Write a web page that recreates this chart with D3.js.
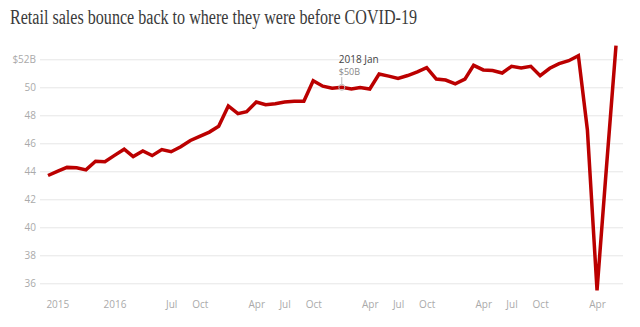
<!DOCTYPE html>
<html>
<head>
<meta charset="utf-8">
<script src="https://cdn.jsdelivr.net/npm/d3@7"></script>
<style>
  html, body { margin: 0; padding: 0; background: #fff; }
  svg { display: block; }
</style>
</head>
<body>
<svg id="chart" width="640" height="327"></svg>
<script>
// Monthly retail sales, $ billions, Jun 2015 .. Jun 2020
const startMonth = "2015-06";
const sales = [
  43.7, 44.0, 44.28, 44.25, 44.1, 44.72, 44.68,          // Jun-Dec 2015
  45.14, 45.58, 45.05, 45.45, 45.12, 45.55, 45.4, 45.75, 46.2, 46.5, 46.8, 47.22, // 2016
  48.67, 48.12, 48.26, 48.95, 48.75, 48.82, 48.95, 49.0, 49.0, 50.47, 50.08, 49.93, // 2017
  50.0, 49.88, 49.98, 49.88, 50.95, 50.8, 50.64, 50.84, 51.1, 51.4, 50.59, 50.52, // 2018
  50.24, 50.58, 51.57, 51.24, 51.2, 51.02, 51.5, 51.38, 51.5, 50.83, 51.36, 51.69, // 2019
  51.9, 52.26, 46.95, 35.5, 44.2, 52.97                  // Jan-Jun 2020
];
const yTicks = [36, 38, 40, 42, 44, 46, 48, 50, 52];
const xTickDates = ["2015-07", "2016-01", "2016-07", "2016-10", "2017-04", "2017-07", "2017-10",
                    "2018-04", "2018-07", "2018-10", "2019-04", "2019-07", "2019-10", "2020-04"];
const xTickLabels = ["2015", "2016", "Jul", "Oct", "Apr", "Jul", "Oct",
                     "Apr", "Jul", "Oct", "Apr", "Jul", "Oct", "Apr"];
const annotation = { date: "2018-01", title: "2018 Jan", label: "$50B" };
const titleText = "Retail sales bounce back to where they were before COVID-19";

const parseMonth = d3.timeParse("%Y-%m");
const start = parseMonth(startMonth);
const data = sales.map((v, i) => ({ date: d3.timeMonth.offset(start, i), value: v }));

const svg = d3.select("#chart");

const x = d3.scaleTime()
  .domain([data[0].date, data[data.length - 1].date])
  .range([48, 616]);
const y = d3.scaleLinear().domain([36, 52]).range([283.3, 59.3]);

// Title
svg.append("text")
  .attr("x", 10).attr("y", 23.5)
  .attr("font-family", "Liberation Serif, serif")
  .attr("font-size", 20)
  .attr("fill", "#3a3a3a")
  .attr("textLength", 407)
  .attr("lengthAdjust", "spacingAndGlyphs")
  .text(titleText);

// Y axis gridlines + labels
const yAxis = d3.axisLeft(y)
  .tickValues(yTicks)
  .tickSize(-(623 - 40))
  .tickPadding(4)
  .tickFormat(d => d === 52 ? "$52B" : String(d));
const gy = svg.append("g").attr("transform", "translate(40,0)").call(yAxis);
gy.select(".domain").remove();
gy.selectAll(".tick line").attr("stroke", "#e6e6e6").attr("stroke-width", 1);
gy.selectAll(".tick text")
  .attr("font-family", "Open Sans, sans-serif")
  .attr("font-size", 10)
  .attr("fill", "#aaa");

// X axis labels
const xAxis = d3.axisBottom(x)
  .tickValues(xTickDates.map(parseMonth))
  .tickSize(0)
  .tickPadding(0)
  .tickFormat((d, i) => xTickLabels[i]);
const gx = svg.append("g").attr("transform", "translate(0,301)").call(xAxis);
gx.select(".domain").remove();
gx.selectAll(".tick text")
  .attr("font-family", "Open Sans, sans-serif")
  .attr("font-size", 10)
  .attr("fill", "#aaa");

// Annotation marker
const aDate = parseMonth(annotation.date);
const aPt = data.find(d => +d.date === +aDate);
const ax = x(aPt.date), ay = y(aPt.value);
svg.append("line")
  .attr("x1", ax).attr("x2", ax)
  .attr("y1", 77).attr("y2", ay - 3)
  .attr("stroke", "#bbb").attr("stroke-width", 1);
svg.append("text")
  .attr("x", ax - 3).attr("y", 63)
  .attr("font-family", "Open Sans, sans-serif")
  .attr("font-size", 10)
  .attr("fill", "#444")
  .text(annotation.title);
svg.append("text")
  .attr("x", ax - 3).attr("y", 75)
  .attr("font-family", "Open Sans, sans-serif")
  .attr("font-size", 9)
  .attr("fill", "#888")
  .text(annotation.label);

// Line
const line = d3.line().x(d => x(d.date)).y(d => y(d.value));
svg.append("path")
  .datum(data)
  .attr("d", line)
  .attr("fill", "none")
  .attr("stroke", "#bb0000")
  .attr("stroke-width", 3.5)
  .attr("stroke-linejoin", "miter")
  .attr("stroke-linecap", "butt");

svg.append("circle")
  .attr("cx", ax).attr("cy", ay).attr("r", 3)
  .attr("fill", "none")
  .attr("stroke", "#bbb")
  .attr("stroke-width", 1);
</script>
</body>
</html>
